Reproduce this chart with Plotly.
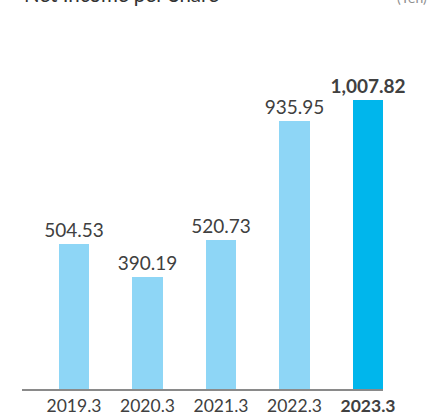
import plotly.graph_objects as go

categories = ["2019.3", "2020.3", "2021.3", "2022.3", "2023.3"]
values = [504.53, 390.19, 520.73, 935.95, 1007.82]
value_labels = ["504.53", "390.19", "520.73", "935.95", "1,007.82"]
title_text = "Net Income per Share"
unit_text = "(Yen)"

light = "#8ED6F6"
bright = "#00B6EC"
colors = [light] * 4 + [bright]

tick_text = [c for c in categories[:-1]] + ["<b>" + categories[-1] + "</b>"]
lbl_text = value_labels[:-1] + ["<b>" + value_labels[-1] + "</b>"]

FONT = "Lato, Noto Sans, sans-serif"

fig = go.Figure()
fig.add_trace(go.Bar(
    x=list(range(len(categories))),
    y=values,
    width=0.42,
    marker=dict(color=colors, line=dict(width=0)),
    text=lbl_text,
    textposition="outside",
    constraintext="none",
    cliponaxis=False,
    textfont=dict(family=FONT, size=19, color="#404040"),
    hoverinfo="skip",
))

fig.update_layout(
    width=429, height=413,
    margin=dict(l=22, r=46, t=0, b=24, autoexpand=False),
    paper_bgcolor="white", plot_bgcolor="white",
    showlegend=False,
    bargap=0,
    font=dict(family=FONT),
    xaxis=dict(
        range=[-0.707, 4.204],
        tickvals=list(range(len(categories))),
        ticktext=tick_text,
        automargin=False,
        showgrid=False, zeroline=False,
        showline=True, linecolor="#8a8a8a", linewidth=2,
        ticks="", ticklen=0,
        tickfont=dict(family=FONT, size=17.5, color="#404040"),
        fixedrange=True,
    ),
    yaxis=dict(
        range=[0, 1356.5],
        visible=False,
        automargin=False,
        fixedrange=True,
    ),
    annotations=[
        dict(text=title_text, xref="paper", yref="paper", x=0, y=1,
             xanchor="left", yanchor="bottom", yshift=-8, showarrow=False,
             font=dict(size=20.5, color="#333333", family=FONT)),
        dict(text=unit_text, xref="paper", yref="paper", x=1, y=1,
             xanchor="right", yanchor="bottom", xshift=46, yshift=-8, showarrow=False,
             font=dict(size=14, color="#909090", family=FONT)),
    ],
)

fig.write_html("out.html",
               config={"displayModeBar": False},
               post_script="document.body.style.margin='0';document.body.style.overflow='hidden';")
